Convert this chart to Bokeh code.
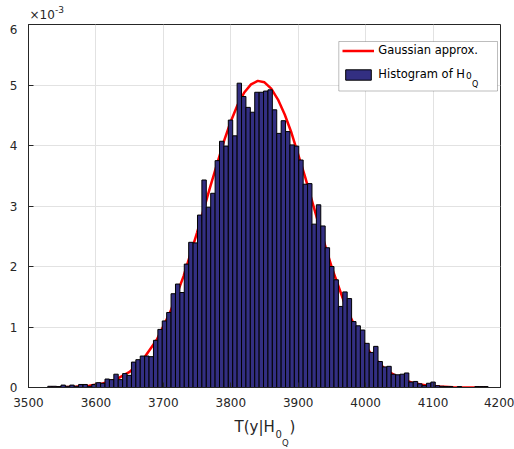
from bokeh.plotting import figure
from bokeh.layouts import column
from bokeh.models import (Range1d, FixedTicker, Legend, LegendItem, Label, BoxAnnotation)
from bokeh.embed import file_html
from bokeh.resources import INLINE

# ---------------- data ----------------
# histogram: 100 equal bins, density values in units of 1e-3
bin_start = 3528.6
bin_width = 6.53
hist_density = [
    0.02, 0.02, 0.015, 0.04, 0.02, 0.04, 0.02, 0.05, 0.05, 0.02,
    0.05, 0.08, 0.07, 0.14, 0.13, 0.22, 0.13, 0.23, 0.20, 0.42,
    0.46, 0.52, 0.52, 0.51, 0.78, 0.96, 1.10, 1.24, 1.55, 1.71,
    1.57, 2.04, 2.40, 2.39, 2.85, 3.43, 2.98, 3.21, 3.75, 4.07,
    3.99, 4.42, 4.16, 5.03, 4.81, 4.63, 4.55, 4.88, 4.88, 4.90,
    4.92, 4.59, 4.20, 4.41, 4.23, 4.01, 3.99, 3.76, 3.36, 3.37,
    2.70, 3.02, 2.67, 2.31, 2.00, 1.78, 1.34, 1.58, 1.47, 1.09,
    1.02, 0.95, 0.73, 0.58, 0.68, 0.43, 0.34, 0.35, 0.22, 0.21,
    0.22, 0.24, 0.09, 0.10, 0.06, 0.03, 0.07, 0.09, 0.03, 0.02,
    0.015, 0.015, 0.0, 0.015, 0.0, 0.0, 0.0, 0.015, 0.015, 0.015,
]

# Gaussian approximation curve (units of 1e-3)
gauss_x = [3530, 3550, 3570, 3590, 3610, 3630, 3650, 3670, 3690, 3710,
           3730, 3750, 3770, 3790, 3800, 3810, 3820, 3830, 3840, 3850,
           3860, 3870, 3880, 3890, 3910, 3930, 3950, 3970, 3990, 4010,
           4030, 4050, 4070, 4090, 4110, 4130, 4150, 4170, 4180]
gauss_y = [0.002, 0.005, 0.013, 0.030, 0.066, 0.135, 0.259, 0.466, 0.785, 1.242,
           1.841, 2.560, 3.336, 4.076, 4.397, 4.668, 4.876, 5.011, 5.068, 5.044,
           4.939, 4.759, 4.512, 4.210, 3.491, 2.713, 1.977, 1.351, 0.865, 0.519,
           0.292, 0.154, 0.076, 0.035, 0.015, 0.006, 0.002, 0.001, 0.0005]

x_ticks = [3500, 3600, 3700, 3800, 3900, 4000, 4100, 4200]
y_ticks = [0, 1, 2, 3, 4, 5, 6]

legend_labels = ["Gaussian approx.", "Histogram of H"]

# ---------------- derived ----------------
bar_left = [bin_start + i * bin_width for i in range(len(hist_density))]
bar_right = [b + bin_width for b in bar_left]

AX = "#262626"
FONT = "DejaVu Sans"
W = 514
FRAME_LEFT = 28          # frames of all stacked figures are aligned by the column
TOP_H = 24
MAIN_H = 389
BOT_H = 449 - TOP_H - MAIN_H


def text_strip(height):
    f = figure(width=W, height=height, output_backend="svg", toolbar_location=None,
               x_range=Range1d(0, 1), y_range=Range1d(0, 1),
               x_axis_type=None, y_axis_type=None, min_border=0)
    f.outline_line_color = None
    f.background_fill_color = "white"
    f.border_fill_color = "white"
    return f


def lab(fig, text, x, y, size, color=AX, page_x=True):
    # x given in page pixels (converted to frame-relative), y frame-relative from bottom
    sx = x - FRAME_LEFT if page_x else x
    fig.add_layout(Label(text=text, x=sx, y=y, x_units="screen", y_units="screen",
                         text_font=FONT, text_font_size=size, text_color=color,
                         text_baseline="middle", text_align="left"))


# ---------- strip above the axes: exponent ----------
top = text_strip(TOP_H)
lab(top, "\u00d710", 29, TOP_H - 14, "12px")
lab(top, "-3", 54.5, TOP_H - 8.5, "9px")

# ---------- main axes ----------
p = figure(width=W, height=MAIN_H, output_backend="svg", toolbar_location=None,
           x_range=Range1d(3500, 4200), y_range=Range1d(0, 6),
           min_border_left=FRAME_LEFT, min_border_right=14,
           min_border_top=0, min_border_bottom=MAIN_H - 363)
p.background_fill_color = "white"
p.border_fill_color = "white"
p.outline_line_color = AX
p.outline_line_width = 1

for ax, ticks in ((p.xaxis[0], x_ticks), (p.yaxis[0], y_ticks)):
    ax.ticker = FixedTicker(ticks=ticks)
    ax.major_tick_in = 5
    ax.major_tick_out = 0
    ax.minor_tick_line_color = None
    ax.axis_line_color = AX
    ax.major_tick_line_color = AX
    ax.major_label_text_font = FONT
    ax.major_label_text_font_size = "12px"
    ax.major_label_text_color = AX
p.xaxis[0].major_label_standoff = 10
p.yaxis[0].major_label_standoff = 11

p.xgrid.ticker = FixedTicker(ticks=x_ticks)
p.ygrid.ticker = FixedTicker(ticks=y_ticks)
p.grid.grid_line_color = "#e2e2e2"
p.grid.grid_line_width = 1

line_r = p.line(gauss_x, gauss_y, line_color="#ff0000", line_width=2.5)
bar_r = p.quad(left=bar_left, right=bar_right, bottom=0, top=hist_density,
               fill_color="#332f82", line_color="black", line_width=1)

# legend box (frame-relative screen px)
p.add_layout(BoxAnnotation(left=310.3, right=469, top=346, bottom=296.5,
                           left_units="screen", right_units="screen",
                           top_units="screen", bottom_units="screen",
                           fill_color="white", fill_alpha=1,
                           line_color=AX, line_width=1, level="annotation"))

legend = Legend(items=[LegendItem(label=legend_labels[0], renderers=[line_r]),
                       LegendItem(label=legend_labels[1], renderers=[bar_r])],
                location=(310.3, 302))
legend.background_fill_alpha = 0
legend.border_line_alpha = 0
legend.padding = 4
legend.spacing = 10
legend.glyph_width = 32
legend.glyph_height = 13
legend.label_height = 13
legend.label_standoff = 4
legend.label_text_font = FONT
legend.label_text_font_size = "11.5px"
legend.label_text_color = "black"
p.add_layout(legend, "center")

# legend subscripts  H_{0_Q}
lab(p, "0", 437.5, 312, "9px", "black", page_x=False)
lab(p, "Q", 443.5, 303.3, "8px", "black", page_x=False)

# ---------- strip below: x axis label  T(y|H_{0_Q}) ----------
bot = text_strip(BOT_H)
lab(bot, "T(y|H", 234, BOT_H - 13.7, "15px")
lab(bot, "0", 275, BOT_H - 20.3, "10px")
lab(bot, "Q", 281.5, BOT_H - 29.3, "8.5px")
lab(bot, ")", 289, BOT_H - 13.7, "15px")

page = column(top, p, bot, spacing=0)
open("out.html", "w").write(file_html(page, INLINE))
